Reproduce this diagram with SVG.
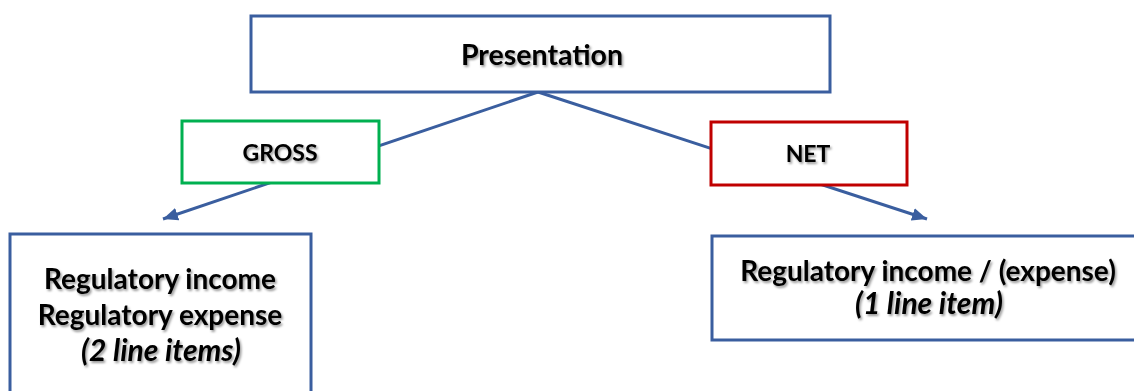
<svg xmlns="http://www.w3.org/2000/svg" width="1134" height="391" viewBox="0 0 1134 391">
  <style>
    .box { fill: #ffffff; stroke-width: 3; }
    .blue { stroke: #3A5E9F; }
    .green { stroke: #00B050; }
    .red { stroke: #C00000; }
    .label { font-family: Lato, "Liberation Sans", sans-serif; font-weight: bold; fill: #000000; text-anchor: middle; filter: url(#shadow); }
    .note { font-style: italic; font-size: 30px; }
    .body { font-size: 28px; }
    .link { stroke: #3A5E9F; stroke-width: 3; fill: none; marker-end: url(#arrow); }
  </style>
  <defs>
    <filter id="shadow" x="-10%" y="-30%" width="120%" height="170%">
      <feDropShadow dx="1.5" dy="2" stdDeviation="1.2" flood-color="#000000" flood-opacity="0.4"/>
    </filter>
    <marker id="arrow" markerUnits="userSpaceOnUse" markerWidth="17" markerHeight="15" refX="15" refY="7.5" orient="auto">
      <path d="M0,1 L15,7.5 L0,14 Z" fill="#3A5E9F"/>
    </marker>
  </defs>

  <!-- connectors: both branches start at the bottom centre of the top box -->
  <g id="connectors">
    <line class="link" x1="538" y1="92" x2="163" y2="219"/>
    <line class="link" x1="538" y1="92" x2="927" y2="219"/>
  </g>

  <g id="presentation">
    <rect class="box blue" x="251" y="16" width="579" height="76"/>
    <text class="label" x="542" y="65" font-size="28.5">Presentation</text>
  </g>

  <g id="gross">
    <rect class="box green" x="182" y="121" width="197" height="62"/>
    <text class="label" x="280" y="161" font-size="23">GROSS</text>
  </g>

  <g id="net">
    <rect class="box red" x="711" y="122" width="196" height="63"/>
    <text class="label" x="808" y="162" font-size="23">NET</text>
  </g>

  <g id="gross-detail">
    <rect class="box blue" x="10" y="234" width="301" height="170"/>
    <text class="label body" x="160" y="289">Regulatory income</text>
    <text class="label body" x="160" y="325">Regulatory expense</text>
    <text class="label note" x="161" y="361">(2 line items)</text>
  </g>

  <g id="net-detail">
    <rect class="box blue" x="712" y="236" width="430" height="104"/>
    <text class="label body" x="928" y="281">Regulatory income / (expense)</text>
    <text class="label note" x="929" y="314">(1 line item)</text>
  </g>
</svg>
